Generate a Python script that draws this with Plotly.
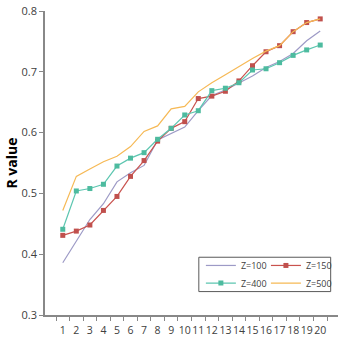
import plotly.graph_objects as go

categories = [str(i) for i in range(1, 21)]
z100 = [0.386, 0.421, 0.457, 0.483, 0.519, 0.534, 0.546, 0.588, 0.599, 0.609, 0.636, 0.661, 0.670, 0.682, 0.693, 0.707, 0.717, 0.730, 0.751, 0.767]
z150 = [0.431, 0.438, 0.448, 0.472, 0.495, 0.528, 0.554, 0.586, 0.607, 0.618, 0.656, 0.660, 0.668, 0.685, 0.710, 0.733, 0.743, 0.766, 0.781, 0.787]
z400 = [0.441, 0.504, 0.508, 0.515, 0.545, 0.558, 0.567, 0.589, 0.607, 0.629, 0.636, 0.669, 0.673, 0.682, 0.703, 0.705, 0.715, 0.727, 0.736, 0.744]
z500 = [0.472, 0.528, 0.540, 0.552, 0.561, 0.577, 0.602, 0.611, 0.639, 0.643, 0.667, 0.682, 0.695, 0.709, 0.722, 0.734, 0.743, 0.766, 0.781, 0.787]

fig = go.Figure()
fig.add_trace(go.Scatter(x=categories, y=z100, name="Z=100", mode="lines",
                         line=dict(color="#9d9ac6", width=1.2), legend="legend"))
fig.add_trace(go.Scatter(x=categories, y=z150, name="Z=150", mode="lines+markers",
                         line=dict(color="#c9524e", width=1.2),
                         marker=dict(symbol="square", size=5, color="#c0504d"), legend="legend2"))
fig.add_trace(go.Scatter(x=categories, y=z400, name="Z=400", mode="lines+markers",
                         line=dict(color="#5cc6b0", width=1.2),
                         marker=dict(symbol="square", size=5, color="#4dbb9f"), legend="legend3"))
fig.add_trace(go.Scatter(x=categories, y=z500, name="Z=500", mode="lines",
                         line=dict(color="#f6b955", width=1.2), legend="legend4"))

FONT = "Open Sans, Arial, sans-serif"
tick_font = dict(family=FONT, size=10.5, color="#404040")


def leg(x, y):
    return dict(x=x, y=y, xanchor="left", yanchor="middle", bgcolor="rgba(0,0,0,0)",
                font=dict(family=FONT, size=9, color="#404040"), itemwidth=30,
                borderwidth=0)


# plot area: x 45..338 (293px), y 11..315 (304px)
fig.update_layout(
    width=343, height=339,
    margin=dict(l=45, r=5, t=11, b=24, autoexpand=False),
    paper_bgcolor="white", plot_bgcolor="white",
    showlegend=True,
    legend=leg(0.532, 0.163),
    legend2=leg(0.754, 0.163),
    legend3=leg(0.532, 0.105),
    legend4=leg(0.754, 0.105),
    xaxis=dict(type="category", tickson="boundaries", ticks="outside", ticklen=4, tickangle=0,
               tickcolor="#888888", showline=True, linecolor="#888888", linewidth=1.5,
               showgrid=False, tickfont=tick_font, zeroline=False, ticklabelstandoff=5,
               automargin=False),
    yaxis=dict(range=[0.3, 0.8], dtick=0.1, tickformat=".1f", ticks="outside", ticklen=4,
               tickcolor="#888888", showline=True, linecolor="#888888", linewidth=1.5,
               showgrid=False, tickfont=dict(family=FONT, size=11, color="#404040"), zeroline=False,
               automargin=False,
               title=dict(text="<b>R value</b>", standoff=1,
                          font=dict(family=FONT, size=14, color="#000000"))),
    shapes=[dict(type="rect", xref="paper", yref="paper", x0=0.525, x1=0.975, y0=0.077, y1=0.19,
                 line=dict(color="#595959", width=1), fillcolor="rgba(0,0,0,0)")],
)

fig.write_html("out.html")
